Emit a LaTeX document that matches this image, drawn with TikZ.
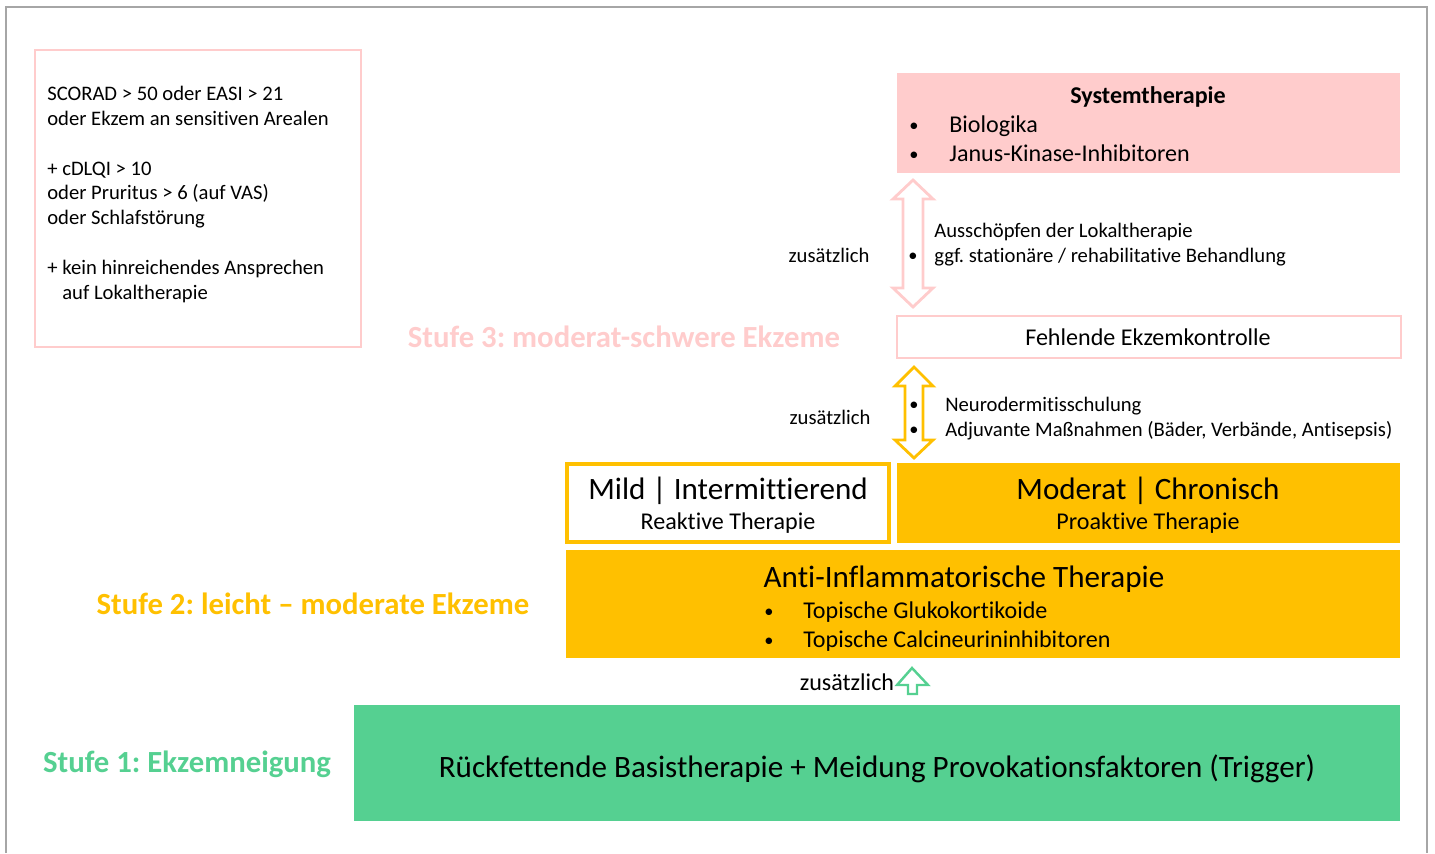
\documentclass[tikz,border=0pt]{standalone}
\usepackage{fontspec}
\setmainfont{Carlito}[Ligatures=NoCommon]
\usepackage{tikz}
\usetikzlibrary{calc,positioning}
\frenchspacing

\definecolor{hautrosa}{RGB}{255,204,204}
\definecolor{hautorange}{RGB}{255,192,0}
\definecolor{hautgruen}{RGB}{85,208,145}

\tikzset{
  klein/.style={font=\fontsize{11.75}{14}\selectfont},
  mittel/.style={font=\fontsize{13.7}{16}\selectfont},
  gross/.style={font=\fontsize{17.7}{20}\selectfont},
  stufe/.style={font=\fontsize{17.5}{20}\selectfont\bfseries},
  punkt/.style={font=\fontsize{10.5}{12}\selectfont,anchor=base},
  pfeilrosa/.style={draw=hautrosa,line width=1.6pt,fill=white,line join=miter},
  pfeilorange/.style={draw=hautorange,line width=1.6pt,fill=white,line join=miter},
  pfeilgruen/.style={draw=hautgruen,line width=1.4pt,fill=white,line join=miter}
}

\begin{document}
\begin{tikzpicture}[x=0.02cm,y=-0.02cm]
  \useasboundingbox (0,0) rectangle (1435,853);
  % Rahmen
  \draw[gray!70,line width=1pt] (6,853) -- (6,7) -- (1427,7) -- (1427,853);

  % Kriterien links oben
  \draw[hautrosa,line width=1.4pt] (35,50) rectangle (361,347);
  \node[klein,anchor=base west,inner sep=0pt] (k1) at (47,100) {SCORAD > 50 oder EASI > 21};
  \node[klein,anchor=base west,inner sep=0pt] (k2) at (47,125) {oder Ekzem an sensitiven Arealen};
  \node[klein,anchor=base west,inner sep=0pt] (k3) at (47,175) {+ cDLQI > 10};
  \node[klein,anchor=base west,inner sep=0pt] (k4) at (47,199) {oder Pruritus > 6 (auf VAS)};
  \node[klein,anchor=base west,inner sep=0pt] (k5) at (47,224) {oder Schlafstörung};
  \node[klein,anchor=base west,inner sep=0pt] (k6) at (47,274) {+ kein hinreichendes Ansprechen};
  \node[klein,anchor=base west,inner sep=0pt] (k7) at (62,299) {auf Lokaltherapie};

  % Stufe 3
  \node[stufe,text=hautrosa,anchor=base] (stufe3) at (624,347) {Stufe 3: moderat-schwere Ekzeme};
  \fill[hautrosa] (897,73) rectangle (1400,173);
  \node[mittel,anchor=base,font=\fontsize{13.7}{16}\selectfont\bfseries] (sys) at (1148,103) {Systemtherapie};
  \node[punkt] (sysb1) at (914,131) {•};
  \node[mittel,anchor=base west,inner sep=0pt] (sys1) at (949,132) {Biologika};
  \node[punkt] (sysb2) at (914,160) {•};
  \node[mittel,anchor=base west,inner sep=0pt] (sys2) at (949,161) {Janus-Kinase-Inhibitoren};

  \draw[pfeilrosa] (913,180) -- (933,199) -- (923,199) -- (923,288) -- (933,288) -- (913,307)
    -- (893,288) -- (903,288) -- (903,199) -- (893,199) -- cycle;
  \node[klein,anchor=base] (zus3) at (829,262) {zusätzlich};
  \node[klein,anchor=base west,inner sep=0pt] (lok1) at (934,237) {Ausschöpfen der Lokaltherapie};
  \node[punkt] (lokb) at (913,261) {•};
  \node[klein,anchor=base west,inner sep=0pt] (lok2) at (934,262) {ggf. stationäre / rehabilitative Behandlung};

  \draw[hautrosa,line width=1.4pt,fill=white] (897,316) rectangle (1401,358);
  \node[mittel,anchor=base] (kontrolle) at (1148,345) {Fehlende Ekzemkontrolle};

  % Stufe 2
  \draw[pfeilorange] (914,367) -- (933,386) -- (923,386) -- (923,440) -- (933,440) -- (914,458)
    -- (895,440) -- (905,440) -- (905,386) -- (895,386) -- cycle;
  \node[klein,anchor=base] (zus2) at (830,424) {zusätzlich};
  \node[punkt] (schulb1) at (914,410) {•};
  \node[punkt] (schulb2) at (914,435) {•};
  \node[klein,anchor=base west,inner sep=0pt] (schul1) at (945,411) {Neurodermitisschulung};
  \node[klein,anchor=base west,inner sep=0pt] (schul2) at (945,436) {Adjuvante Maßnahmen (Bäder, Verbände, Antisepsis)};

  \draw[hautorange,line width=2pt,fill=white] (567,464) rectangle (889,542);
  \node[gross,anchor=base] (mild) at (728,499) {Mild | Intermittierend};
  \node[mittel,anchor=base] (reaktiv) at (728,529) {Reaktive Therapie};
  \fill[hautorange] (897,463) rectangle (1400,543);
  \node[gross,anchor=base] (moderat) at (1148,499) {Moderat | Chronisch};
  \node[mittel,anchor=base] (proaktiv) at (1148,529) {Proaktive Therapie};

  \fill[hautorange] (566,550) rectangle (1400,658);
  \node[gross,anchor=base] (anti) at (964,587) {Anti-Inflammatorische Therapie};
  \node[punkt] (antib1) at (769,617) {•};
  \node[mittel,anchor=base west,inner sep=0pt] (anti1) at (803,618) {Topische Glukokortikoide};
  \node[punkt] (antib2) at (769,646) {•};
  \node[mittel,anchor=base west,inner sep=0pt] (anti2) at (803,647) {Topische Calcineurininhibitoren};
  \node[stufe,text=hautorange,anchor=base] (stufe2) at (313,614) {Stufe 2: leicht – moderate Ekzeme};

  % Stufe 1
  \node[mittel,anchor=base] (zus1) at (847,690) {zusätzlich};
  \draw[pfeilgruen] (912,668) -- (928,685) -- (917,685) -- (917,694) -- (908,694) -- (908,685)
    -- (897,685) -- cycle;
  \fill[hautgruen] (354,705) rectangle (1400,821);
  \node[gross,anchor=base] (basis) at (877,777) {Rückfettende Basistherapie + Meidung Provokationsfaktoren (Trigger)};
  \node[stufe,text=hautgruen,anchor=base] (stufe1) at (187,772) {Stufe 1: Ekzemneigung};
\end{tikzpicture}
\end{document}
